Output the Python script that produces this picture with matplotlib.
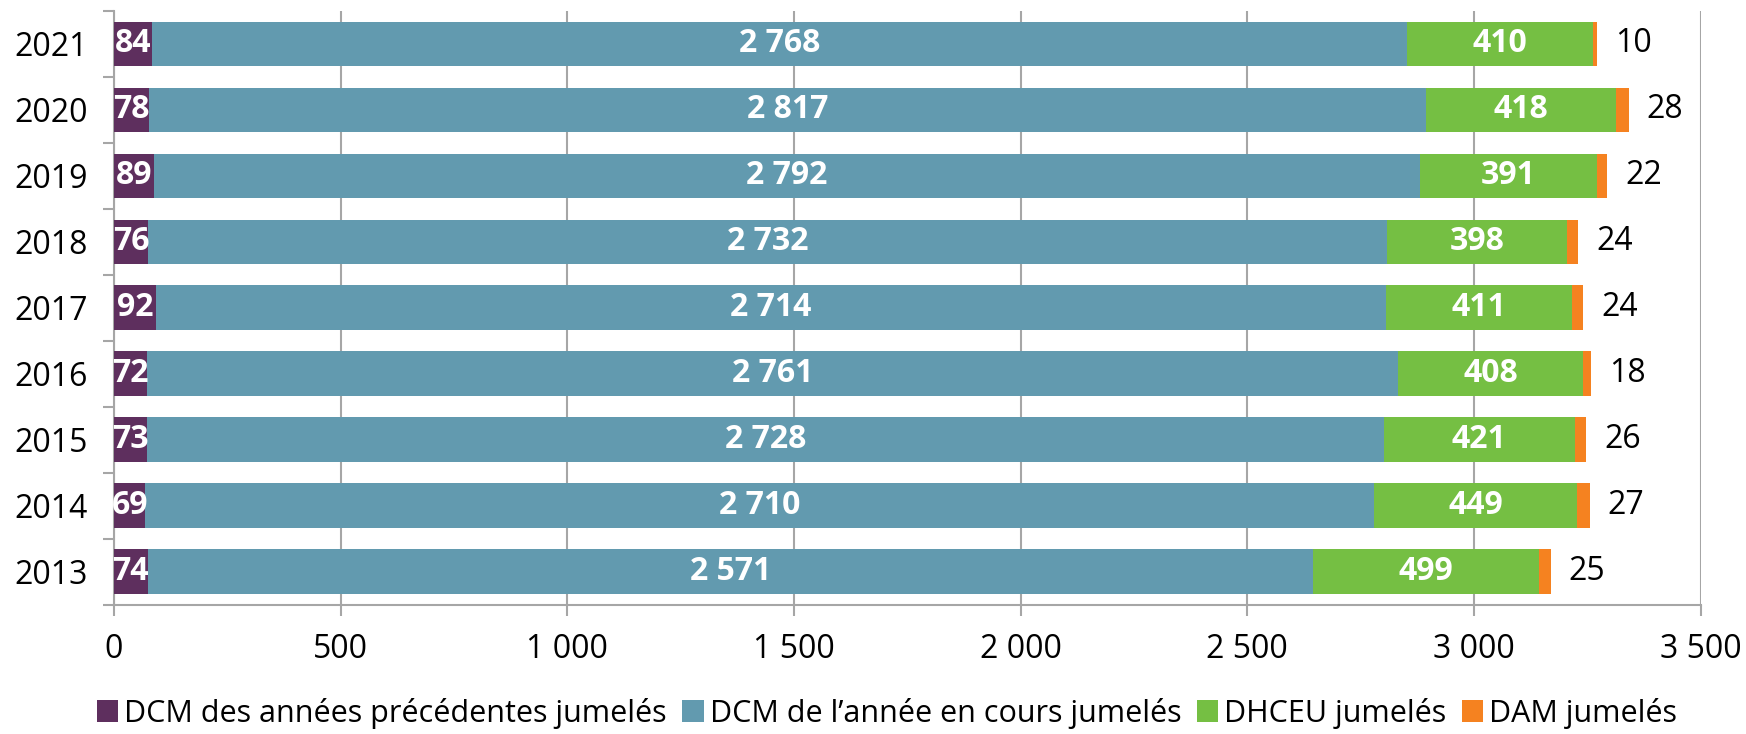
import matplotlib
matplotlib.use("Agg")
import matplotlib.pyplot as plt
from matplotlib.patches import Patch
from matplotlib.ticker import FuncFormatter
import numpy as np

plt.rcParams['font.family'] = ['Open Sans', 'DejaVu Sans']

years = ["2013", "2014", "2015", "2016", "2017", "2018", "2019", "2020", "2021"]
dcm_prev = [74, 69, 73, 72, 92, 76, 89, 78, 84]
dcm_cur = [2571, 2710, 2728, 2761, 2714, 2732, 2792, 2817, 2768]
dhceu = [499, 449, 421, 408, 411, 398, 391, 418, 410]
dam = [25, 27, 26, 18, 24, 24, 22, 28, 10]
series_names = ["DCM des années précédentes jumelés", "DCM de l\u2019année en cours jumelés",
                "DHCEU jumelés", "DAM jumelés"]
colors = ["#5E2F5E", "#629AAF", "#75BF43", "#F58220"]
xticks = [0, 500, 1000, 1500, 2000, 2500, 3000, 3500]

def fmt(v):
    return f"{v:,}".replace(",", " ")

fig = plt.figure(figsize=(17.46, 7.34), dpi=100)
ax = fig.add_axes([0.0653, 0.176, 0.9087, 0.809])

y = np.arange(len(years))
h = 0.68
left = np.zeros(len(years))
data = [dcm_prev, dcm_cur, dhceu, dam]
for i, (vals, c) in enumerate(zip(data, colors)):
    vals = np.array(vals)
    ax.barh(y, vals, left=left, height=h, color=c, zorder=3, edgecolor='none')
    for yy, l, v in zip(y, left, vals):
        if i < 3:
            ax.text(l + v / 2, yy, fmt(int(v)), ha='center', va='center', color='white',
                    fontsize=23, fontweight='bold', zorder=4)
        else:
            ax.text(l + v + 40, yy, fmt(int(v)), ha='left', va='center', color='black',
                    fontsize=23, zorder=4)
    left = left + vals

ax.set_xlim(0, 3500)
ax.set_ylim(-0.5, len(years) - 0.5)
ax.set_xticks(xticks)
ax.xaxis.set_major_formatter(FuncFormatter(lambda v, p: fmt(int(v))))
ax.set_yticks(y)
ax.set_yticklabels(years)
ax.set_yticks(np.arange(-0.5, len(years), 1), minor=True)
ax.tick_params(axis='y', which='major', length=0, labelsize=23, pad=19)
ax.tick_params(axis='y', which='minor', length=8, color='#A6A6A6', width=1.5)
ax.tick_params(axis='x', which='major', length=8, color='#A6A6A6', width=1.5, labelsize=23, pad=12)
ax.grid(axis='x', color='#A6A6A6', linewidth=1.5, zorder=0)
for s in ['top', 'right']:
    ax.spines[s].set_visible(False)
for s in ['left', 'bottom']:
    ax.spines[s].set_color('#A6A6A6')
    ax.spines[s].set_linewidth(1.5)

handles = [Patch(facecolor=c, edgecolor='none') for c in colors]
fig.legend(handles, series_names, loc='lower center', bbox_to_anchor=(0.508, -0.03), ncol=4,
           frameon=False, fontsize=22, handlelength=0.7, handleheight=0.7,
           handletextpad=0.2, columnspacing=0.5)

fig.savefig("out.png", dpi=100)
